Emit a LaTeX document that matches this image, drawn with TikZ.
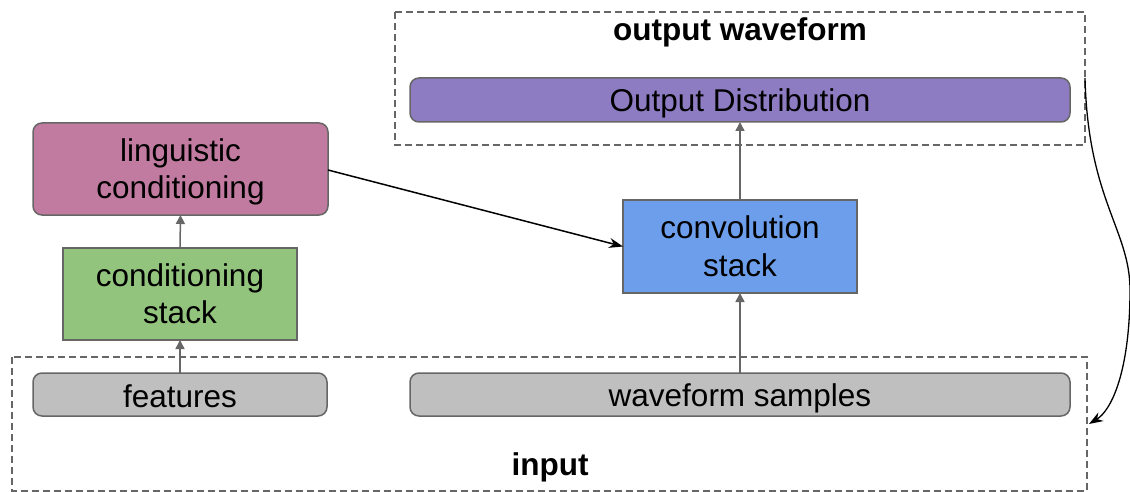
\documentclass[tikz,border=0pt]{standalone}
\usepackage{fontspec}
\setmainfont{Liberation Sans}
\usetikzlibrary{arrows.meta}
\definecolor{edgegray}{HTML}{666666}
\definecolor{purplebox}{HTML}{8E7CC3}
\definecolor{pinkbox}{HTML}{C27BA0}
\definecolor{greenbox}{HTML}{93C47D}
\definecolor{bluebox}{HTML}{6D9EEB}
\definecolor{graybox}{HTML}{BFBFBF}
\begin{document}
\begin{tikzpicture}[x=1pt,y=-1pt,
  every node/.style={font=\fontsize{31.5}{37.5}\selectfont, inner sep=0pt, outer sep=0pt},
  block/.style={draw=edgegray, line width=1.5pt, align=center},
  % struts fix the baseline position inside the boxes
  oneline/.style={execute at begin node={\rule[-5pt]{0pt}{35pt}}},
  twoline/.style={execute at begin node={\rule[-7pt]{0pt}{73.6pt}}},
  roundblock/.style={block, rounded corners=9pt},
  groupbox/.style={draw=edgegray, line width=1.3pt, dash pattern=on 7pt off 4pt},
  grouplabel/.style={font=\fontsize{31.5}{37}\selectfont\bfseries},
  flow/.style={draw=edgegray, line width=1.5pt, -{Triangle[length=9pt,width=9pt]}},
  link/.style={draw=black, line width=1.5pt, -{Stealth[length=14pt,width=10pt]}}
]
\useasboundingbox (0,0) rectangle (1130,492);

% dashed groups
\draw[groupbox] (395,12) rectangle (1085,145);
\draw[groupbox] (12,357) rectangle (1087,491);
\node[grouplabel] (outlbl) at (740,32) {output waveform};
\node[grouplabel] (inlbl) at (550,467) {input};

% blocks
\node[roundblock, oneline, fill=purplebox, minimum width=660pt, minimum height=44pt] (dist) at (740,100) {Output Distribution};
\node[roundblock, twoline, fill=pinkbox, minimum width=295pt, minimum height=92pt] (ling) at (180.5,169) {linguistic\\conditioning};
\node[block, twoline, fill=greenbox, minimum width=234pt, minimum height=92pt] (cond) at (180,294) {conditioning\\stack};
\node[block, twoline, fill=bluebox, minimum width=234pt, minimum height=93pt] (conv) at (740,246.5) {convolution\\stack};
\node[roundblock, oneline, fill=graybox, minimum width=294pt, minimum height=43pt] (feat) at (180,394.5) {features};
\node[roundblock, oneline, fill=graybox, minimum width=660pt, minimum height=43pt] (wave) at (740,394.5) {waveform samples};

% connectors
\draw[flow] (feat.north) -- (cond.south);
\draw[flow] (cond.north) -- (ling.south);
\draw[flow] (wave.north) -- (conv.south);
\draw[flow] (conv.north) -- (dist.south);
\draw[link] (ling.east |- 0,170) -- (conv.west);

% feedback from output back to input
\coordinate (fbstart) at (1085,78);
\coordinate (fbend) at (1089,424);
\draw[link, line width=1.3pt] (fbstart) .. controls (1088,200) and (1130,230) .. (1130,290)
  .. controls (1130,370) and (1112,410) .. (fbend);
\end{tikzpicture}
\end{document}
